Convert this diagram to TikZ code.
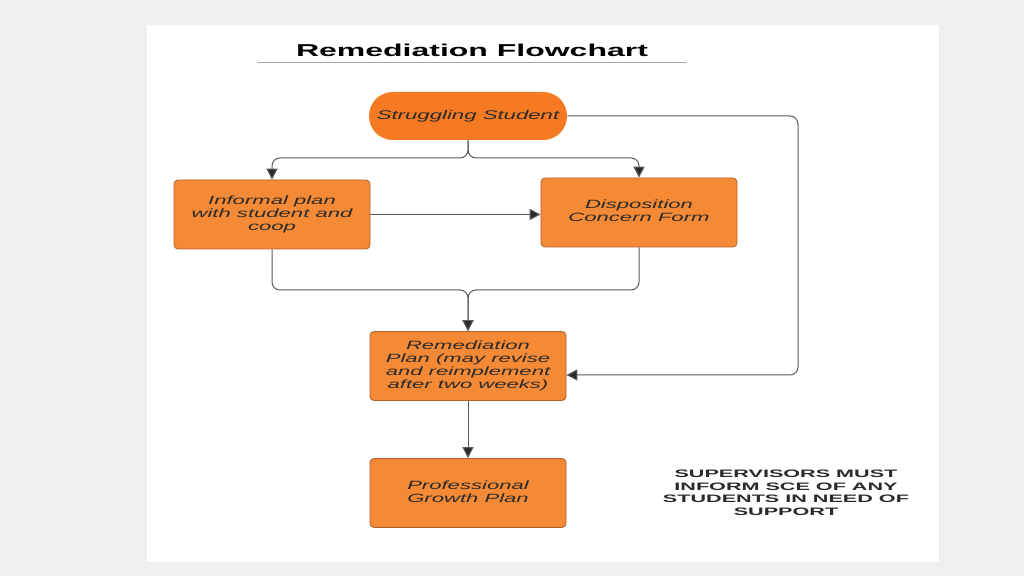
\documentclass[tikz,border=0pt]{standalone}
\usepackage{fontspec}
\setmainfont{Liberation Sans}
\usetikzlibrary{arrows.meta}
\definecolor{bggray}{HTML}{EFEFEF}
\definecolor{ssfill}{HTML}{F57A22}
\definecolor{boxfill}{HTML}{F58A36}
\definecolor{boxline}{HTML}{B0602A}
\definecolor{linec}{HTML}{5A5A5A}
\definecolor{txt}{HTML}{2A2A2A}
\newcommand\sx[2]{\scalebox{#1}[1]{#2}}
\newcommand\lines[1]{\begin{tabular}{@{}c@{}}#1\end{tabular}}
\tikzset{
  x=0.5pt, y=-0.5pt,
  box/.style={draw=boxline, line width=0.4pt, fill=boxfill, rounded corners=2pt,
    minimum width=98pt, minimum height=34.5pt, inner sep=0pt, text=txt,
    font=\fontsize{6.0}{6.5}\selectfont\itshape},
  stadium/.style={fill=ssfill, rounded corners=11.9pt, minimum width=99pt,
    minimum height=24pt, inner sep=0pt, text=txt,
    font=\fontsize{6.3}{7}\selectfont\itshape},
  conn/.style={draw=linec, line width=0.5pt, rounded corners=4pt,
    -{Triangle[length=5.5pt,width=5.5pt,fill=txt]}},
}
\begin{document}
\begin{tikzpicture}
\useasboundingbox (0,0) rectangle (1024,576);
\fill[bggray] (0,0) rectangle (1024,576);
\fill[white] (147,25) rectangle (939,562);
% title
\node[font=\fontsize{8.6}{10}\selectfont\bfseries, text=black] (title) at (472,50) {\sx{1.86}{Remediation Flowchart}};
\draw[gray!70, line width=0.5pt] (258,63) -- (686,63);
% nodes
\node[stadium] (ss) at (468,116) {\sx{1.76}{Struggling Student}};
\node[box] (inf) at (272,214.5) {\sx{1.84}{\lines{Informal plan\\with student and\\coop}}};
\node[box] (disp) at (639,212.5) {\sx{1.84}{\lines{Disposition\\Concern Form}}};
\node[box] (rem) at (468,366) {\sx{1.84}{\lines{Remediation\\Plan (may revise\\and reimplement\\after two weeks)}}};
\node[box] (pgp) at (468,493) {\sx{1.84}{\lines{Professional\\Growth Plan}}};
\node[font=\fontsize{5.4}{6.25}\selectfont\bfseries, text=txt] (note) at (786,494)
  {\sx{2.0}{\lines{SUPERVISORS MUST\\INFORM SCE OF ANY\\STUDENTS IN NEED OF\\SUPPORT}}};
% connectors
\coordinate (split) at (468,158);
\coordinate (merge) at (468,290);
\coordinate (loopc) at (798,375);
\draw[conn] (ss.south) -- (split) -| (inf.north);
\draw[conn] (ss.south) -- (split) -| (disp.north);
\draw[conn] (inf.east) -- (inf.east -| disp.west);
\draw[conn] (inf.south) |- (merge) -- (rem.north);
\draw[conn] (disp.south) |- (merge) -- (rem.north);
\draw[conn] (ss.east) -| (loopc) -- (rem.east |- loopc);
\draw[conn] (rem.south) -- (pgp.north);
\end{tikzpicture}
\end{document}
